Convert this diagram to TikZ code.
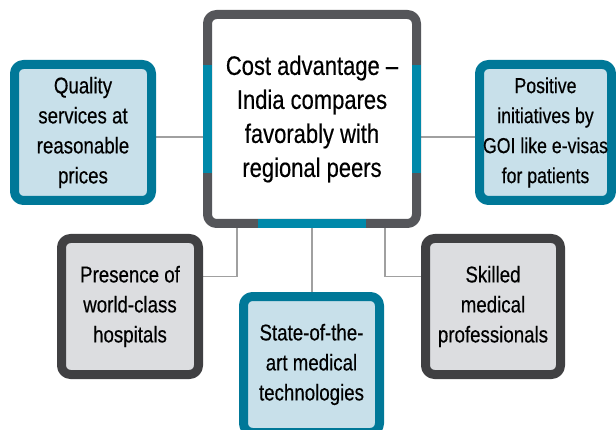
\documentclass[tikz,border=0pt]{standalone}
\usepackage{fontspec}
\setmainfont{Liberation Sans}[FakeStretch=0.82, FakeBold=0.4]
\usetikzlibrary{backgrounds}
\definecolor{tealdark}{RGB}{0,120,152}
\definecolor{tealmid}{RGB}{0,137,170}
\definecolor{bluefill}{RGB}{200,224,234}
\definecolor{graymain}{RGB}{85,86,90}
\definecolor{graydark}{RGB}{64,64,66}
\definecolor{grayfill}{RGB}{220,221,224}
\definecolor{linkgray}{RGB}{160,160,160}
\tikzset{
  box/.style={rectangle, rounded corners=9pt, line width=9pt, align=center, inner sep=0pt,
    outer sep=0pt, font=\fontsize{22.8}{30}\selectfont},
  bluebox/.style={box, draw=tealdark, fill=bluefill},
  graybox/.style={box, draw=graydark, fill=grayfill},
  link/.style={draw=linkgray, line width=1.5pt}
}
\begin{document}
\begin{tikzpicture}[x=1pt, y=1pt, line join=round]
				\useasboundingbox (0,0) rectangle (616,429);
				\clip (0,0) rectangle (616,429);
				% centre box
				\node[box, draw=graymain, fill=white, minimum width=209pt, minimum height=209pt,
				  font=\fontsize{26.8}{34}\selectfont] (cost) at (312,310)
				  {Cost advantage --\\India compares\\favorably with\\regional peers};
				\draw[tealmid, line width=9pt] ([yshift=54pt]cost.west) -- ([yshift=-54pt]cost.west);
				\draw[tealmid, line width=9pt] ([yshift=54pt]cost.east) -- ([yshift=-54pt]cost.east);
				\draw[tealmid, line width=9pt] ([xshift=-54pt]cost.south) -- ([xshift=54pt]cost.south);
				% outer boxes
				\node[bluebox, minimum width=137pt, minimum height=136pt] (quality) at (83,296.5)
				  {Quality\\services at\\reasonable\\prices};
				\node[bluebox, minimum width=132pt, minimum height=136pt,
				  font=\fontsize{21.6}{30}\selectfont] (goi) at (545.5,296.5)
				  {Positive\\initiatives by\\GOI like e-visas\\for patients};
				\node[graybox, minimum width=137pt, minimum height=136pt] (hospitals) at (130,122.5)
				  {Presence of\\world-class\\hospitals};
				\node[graybox, minimum width=135pt, minimum height=136pt] (skilled) at (493,122.5)
				  {Skilled\\medical\\professionals};
				\node[bluebox, minimum width=136pt, minimum height=136pt] (tech) at (311.5,64.5)
				  {State-of-the-\\art medical\\technologies};
				% connectors
				\begin{scope}[on background layer]
				\draw[link] ([yshift=-4.5pt]quality.east) -- ([yshift=-4.5pt]quality.east -| cost.west);
				\draw[link] ([yshift=-4.5pt]goi.west) -- ([yshift=-4.5pt]goi.west -| cost.east);
				\draw[link] ([xshift=-75pt]cost.south) |- ([yshift=-38pt]hospitals.north east);
				\draw[link] ([xshift=73pt]cost.south) |- ([yshift=-38pt]skilled.north west);
				\draw[link] (cost.south) -- (cost.south |- tech.north);
				\end{scope}
			\end{tikzpicture}
\end{document}
